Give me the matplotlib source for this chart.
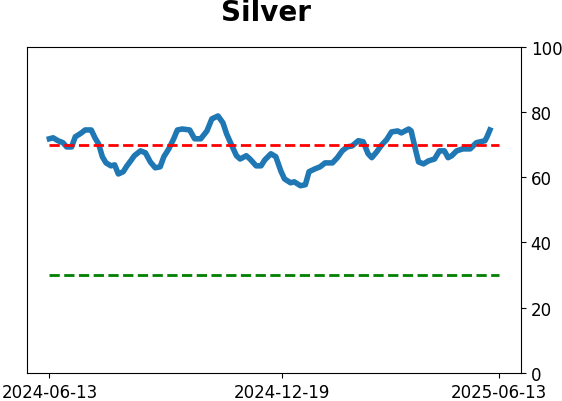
import pandas as pd
import matplotlib
matplotlib.use('Agg')
import matplotlib.pyplot as plt

# 数据：数值
dates = ['2024-06-13', '2024-06-16', '2024-06-20', '2024-06-24', '2024-06-27', '2024-07-01',
         '2024-07-04', '2024-07-09', '2024-07-12', '2024-07-17', '2024-07-20', '2024-07-23',
         '2024-07-26', '2024-07-29', '2024-08-02', '2024-08-05', '2024-08-08', '2024-08-12',
         '2024-08-15', '2024-08-18', '2024-08-21', '2024-08-26', '2024-08-30', '2024-09-03',
         '2024-09-07', '2024-09-11', '2024-09-14', '2024-09-18', '2024-09-22', '2024-09-25',
         '2024-09-29', '2024-10-05', '2024-10-09', '2024-10-14', '2024-10-19', '2024-10-23',
         '2024-10-28', '2024-11-01', '2024-11-04', '2024-11-08', '2024-11-12', '2024-11-15',
         '2024-11-20', '2024-11-23', '2024-11-28', '2024-12-02', '2024-12-05', '2024-12-10',
         '2024-12-14', '2024-12-18', '2024-12-21', '2024-12-26', '2024-12-29', '2025-01-03',
         '2025-01-07', '2025-01-10', '2025-01-15', '2025-01-19', '2025-01-23', '2025-01-29',
         '2025-02-02', '2025-02-06', '2025-02-10', '2025-02-14', '2025-02-19', '2025-02-23',
         '2025-02-27', '2025-03-02', '2025-03-06', '2025-03-10', '2025-03-14', '2025-03-18',
         '2025-03-23', '2025-03-26', '2025-04-01', '2025-04-03', '2025-04-06', '2025-04-09',
         '2025-04-13', '2025-04-17', '2025-04-22', '2025-04-26', '2025-04-30', '2025-05-03',
         '2025-05-06', '2025-05-10', '2025-05-15', '2025-05-21', '2025-05-26', '2025-06-02',
         '2025-06-04', '2025-06-06']
values = [71.8, 72.1, 71.2, 70.6, 69.3, 69.3,
          72.4, 73.6, 74.5, 74.5, 72.1, 70.2,
          66.3, 64.4, 63.5, 63.8, 61.0, 61.7,
          63.5, 65.0, 66.6, 68.1, 67.5, 64.7,
          62.9, 63.2, 66.3, 68.7, 71.8, 74.5,
          74.8, 74.5, 71.8, 71.8, 74.2, 77.9,
          78.8, 76.7, 73.3, 69.9, 66.6, 65.6,
          66.6, 65.6, 63.5, 63.5, 65.3, 67.2,
          66.3, 62.0, 59.5, 58.3, 58.6, 57.4,
          57.7, 61.7, 62.6, 63.2, 64.4, 64.4,
          66.0, 68.1, 69.3, 69.6, 71.2, 70.9,
          67.2, 66.0, 67.8, 69.9, 71.5, 73.9,
          74.2, 73.6, 74.8, 74.2, 69.3, 64.7,
          64.1, 65.0, 65.6, 68.1, 68.1, 66.0,
          66.6, 68.1, 68.7, 68.7, 70.6, 71.2,
          72.7, 74.5]

start_date = '2024-06-13'
end_date = '2025-06-13'
upper_level = 70
lower_level = 30
tick_dates = ['2024-06-13', '2024-12-19', '2025-06-13']

dates = pd.to_datetime(dates)
span = pd.to_datetime([start_date, end_date])

fig = plt.figure(figsize=(5.62, 4.02), dpi=100)
ax = fig.add_axes([0.048, 0.070, 0.879, 0.811])

ax.plot(dates, values, color='#1f77b4', linewidth=4)
ax.plot(span, [upper_level, upper_level], color='red', linestyle='--', linewidth=2)
ax.plot(span, [lower_level, lower_level], color='green', linestyle='--', linewidth=2)

ax.set_ylim(0, 100)
ax.yaxis.tick_right()
ax.set_xticks(pd.to_datetime(tick_dates))
ax.set_xticklabels(tick_dates)
ax.tick_params(labelsize=12)
ax.set_title('Silver', fontsize=20, fontweight='bold', x=0.484, pad=19)

fig.savefig('out.png', dpi=100)
